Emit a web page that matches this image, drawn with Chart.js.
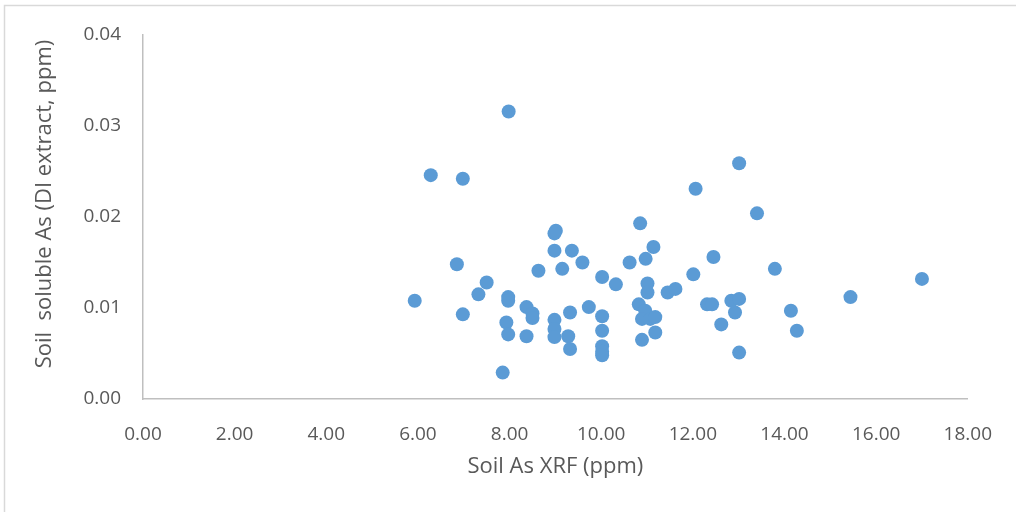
<!DOCTYPE html>
<html>
<head>
<meta charset="utf-8">
<script src="https://cdn.jsdelivr.net/npm/chart.js@4/dist/chart.umd.min.js"></script>
<style>
  body { margin: 0; background: #fff; }
  canvas { display: block; }
</style>
</head>
<body>
<canvas id="scatterChart" width="1016" height="512"></canvas>
<script>
// Soil As by XRF (ppm) vs soluble As in DI extract (ppm)
const xrfValues = [
  5.93, 6.28, 6.98, 6.85, 6.98, 7.32, 7.50, 7.98, 7.97, 7.97,
  7.93, 7.97, 7.85, 8.37, 8.37, 8.50, 8.50, 8.63, 9.01, 8.98,
  8.98, 8.98, 8.98, 8.98, 9.15, 9.32, 9.28, 9.32, 9.36, 9.59,
  9.73, 10.02, 10.02, 10.02, 10.02, 10.02, 10.02, 10.32, 10.62, 10.82,
  10.85, 10.96, 10.89, 11.07, 11.18, 11.18, 10.89, 10.97, 11.14, 11.01,
  11.01, 11.45, 11.62, 12.01, 12.06, 12.31, 12.42, 12.45, 12.62, 12.84,
  12.92, 13.01, 13.01, 13.01, 13.40, 13.79, 14.14, 14.27, 15.44, 17.00
];
const solubleValues = [
  0.0108, 0.0246, 0.0242, 0.0148, 0.0093, 0.0115, 0.0128, 0.0316, 0.0112, 0.0108,
  0.0084, 0.0071, 0.0029, 0.0101, 0.0069, 0.0094, 0.0089, 0.0141, 0.0185, 0.0182,
  0.0163, 0.0087, 0.0077, 0.0068, 0.0143, 0.0095, 0.0069, 0.0055, 0.0163, 0.0150,
  0.0101, 0.0134, 0.0091, 0.0075, 0.0058, 0.0052, 0.0048, 0.0126, 0.0150, 0.0104,
  0.0193, 0.0097, 0.0088, 0.0088, 0.0090, 0.0073, 0.0065, 0.0154, 0.0167, 0.0127,
  0.0117, 0.0117, 0.0121, 0.0137, 0.0231, 0.0104, 0.0104, 0.0156, 0.0082, 0.0108,
  0.0095, 0.0110, 0.0259, 0.0051, 0.0204, 0.0143, 0.0097, 0.0075, 0.0112, 0.0132
];

const xTitle = 'Soil As XRF (ppm)';
const yTitle = 'Soil  soluble As (DI extract, ppm)';

const points = xrfValues.map((x, i) => ({ x: x, y: solubleValues[i] }));

const textColor = '#595959';
const axisColor = '#bfbfbf';
const fontFamily = '"Open Sans", "Liberation Sans", sans-serif';

// light frame round the whole chart (only top and left edges show)
const framePlugin = {
  id: 'frame',
  beforeDraw(chart) {
    const ctx = chart.ctx;
    ctx.save();
    ctx.fillStyle = '#ffffff';
    ctx.fillRect(0, 0, chart.width, chart.height);
    ctx.strokeStyle = '#d9d9d9';
    ctx.lineWidth = 1.5;
    ctx.strokeRect(4.5, 5.5, chart.width + 10, chart.height + 10);
    ctx.restore();
  }
};

// y title sits a little above the plot's middle, like the original
const yTitlePlugin = {
  id: 'yTitle',
  afterDraw(chart) {
    const ctx = chart.ctx;
    const area = chart.chartArea;
    ctx.save();
    ctx.translate(45, (area.top + area.bottom) / 2 - 13);
    ctx.rotate(-Math.PI / 2);
    ctx.fillStyle = textColor;
    ctx.font = '22px ' + fontFamily;
    ctx.textAlign = 'center';
    ctx.textBaseline = 'middle';
    ctx.fillText(yTitle, 0, 0);
    ctx.restore();
  }
};

const ctx = document.getElementById('scatterChart').getContext('2d');
new Chart(ctx, {
  type: 'scatter',
  data: {
    datasets: [{
      data: points,
      backgroundColor: '#5b9bd5',
      borderColor: '#5b9bd5',
      borderWidth: 0,
      pointRadius: 7,
      pointHoverRadius: 7
    }]
  },
  options: {
    responsive: false,
    animation: false,
    events: [],
    layout: { padding: { left: 14, right: 40, top: 35, bottom: 20 } },
    plugins: {
      legend: { display: false },
      tooltip: { enabled: false }
    },
    scales: {
      x: {
        type: 'linear',
        min: 0,
        max: 18,
        afterFit: (scale) => { scale.height = 93; },
        grid: { display: false, drawTicks: false },
        border: { display: true, color: axisColor, width: 1.5 },
        ticks: {
          stepSize: 2,
          padding: 24,
          color: textColor,
          font: { family: fontFamily, size: 19 },
          callback: (v) => v.toFixed(2)
        },
        title: {
          display: true,
          text: xTitle,
          color: textColor,
          font: { family: fontFamily, size: 22 },
          padding: { top: 0, bottom: 12 }
        }
      },
      y: {
        type: 'linear',
        min: 0,
        max: 0.04,
        afterFit: (scale) => { scale.width = 129; },
        grid: { display: false, drawTicks: false },
        border: { display: true, color: axisColor, width: 1.5 },
        ticks: {
          stepSize: 0.01,
          padding: 22,
          color: textColor,
          font: { family: fontFamily, size: 19 },
          callback: (v) => v.toFixed(2)
        }
      }
    }
  },
  plugins: [framePlugin, yTitlePlugin]
});
</script>
</body>
</html>
